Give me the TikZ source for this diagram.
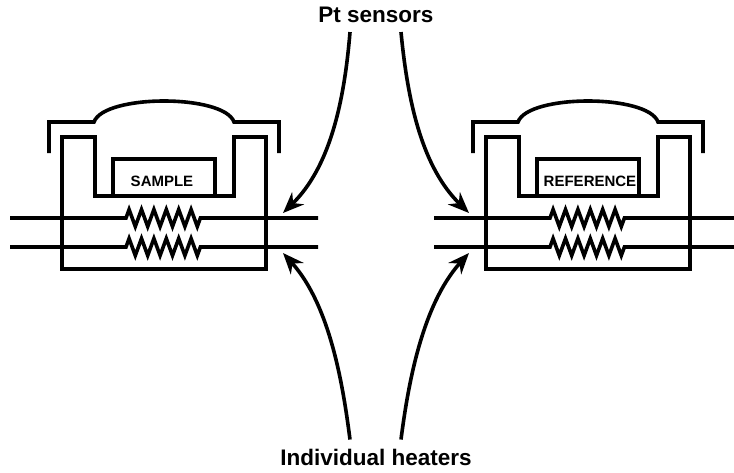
\documentclass[tikz,border=0pt]{standalone}
\usepackage{fontspec}
\setmainfont{Liberation Sans}
\usetikzlibrary{arrows.meta,decorations.pathmorphing}
\tikzset{
	outline/.style={line width=3.6pt},
	heater/.style={decoration={zigzag,amplitude=8.5pt,segment length=12.4pt}},
	bigtext/.style={font=\bfseries\fontsize{22.5}{25}\selectfont,inner sep=0pt},
	smalltext/.style={font=\bfseries\fontsize{15}{17}\selectfont,inner sep=0pt},
	pointer/.style={outline,-{Stealth[length=21pt,width=17pt]}}
}
\begin{document}
\begin{tikzpicture}[x=1pt,y=-1pt]
\clip (0, 0) rectangle (734, 472);

\foreach \dx/\tx/\name/\word in {0/162/sample/SAMPLE, 424/166/reference/REFERENCE} {
	\begin{scope}[xshift=\dx pt]
	\draw[outline] (49, 153) -- (49, 122) -- (94, 122) .. controls (104, 94) and (224, 94) .. (234, 122) -- (279, 122) -- (279, 153);
	\draw[outline] (95, 137) -- (62, 137) -- (62, 269) -- (266, 269) -- (266, 137) -- (234, 137) -- (234, 196) -- (95, 196) -- cycle;
	\draw[outline] (113, 196) -- (113, 159) -- (215, 159) -- (215, 196);

	\draw[outline] (10, 218) -- (126, 218) decorate[heater] {-- (203, 218)} -- (318, 218);
	\draw[outline] (10, 247) -- (126, 247) decorate[heater] {-- (203, 247)} -- (318, 247);

	\node[smalltext] (\name) at (\tx, 181) {\word};
	\end{scope}
}

\node[bigtext] (sensors) at (376, 15) {Pt sensors};
\node[bigtext] (heaters) at (376, 457) {Individual heaters};

\coordinate (sampletop) at (283, 213);
\coordinate (referencetop) at (469, 213);
\coordinate (samplebottom) at (283, 253);
\coordinate (referencebottom) at (469, 253);

\draw[pointer] ([xshift=-26pt,yshift=-9pt]sensors.south) .. controls (344, 105) and (329, 168) .. (sampletop);
\draw[pointer] ([xshift=25pt,yshift=-9pt]sensors.south) .. controls (408, 105) and (423, 168) .. (referencetop);
\draw[pointer] ([xshift=-26pt,yshift=9pt]heaters.north) .. controls (343, 385) and (330, 305) .. (samplebottom);
\draw[pointer] ([xshift=25pt,yshift=9pt]heaters.north) .. controls (408, 385) and (422, 305) .. (referencebottom);
\end{tikzpicture}
\end{document}
